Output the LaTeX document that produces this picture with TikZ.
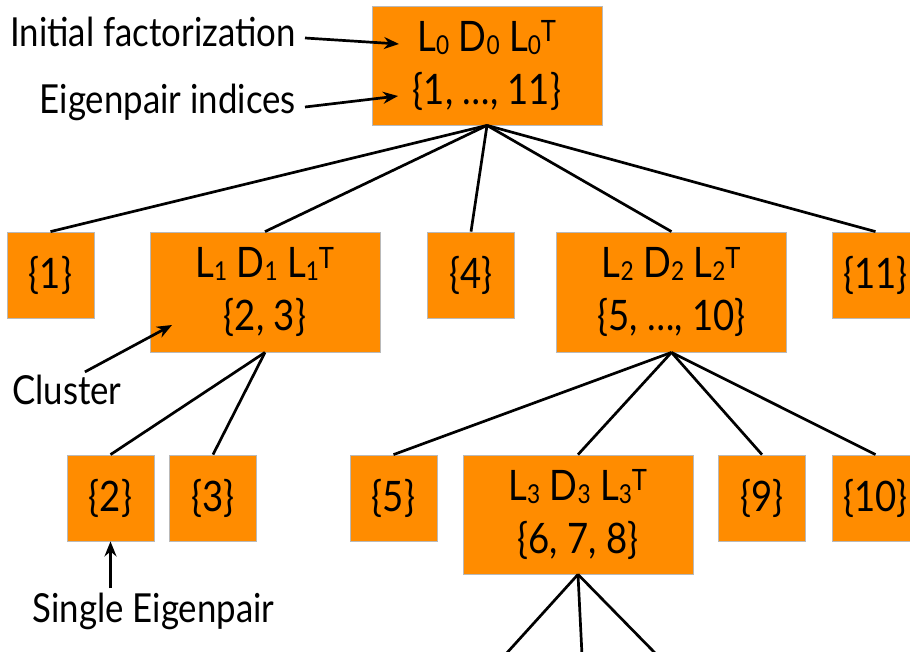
\documentclass[tikz,border=0pt]{standalone}
\usepackage{fontspec}
\setmainfont[FakeStretch=0.87]{Lato}
\usetikzlibrary{arrows.meta}
\definecolor{boxorange}{RGB}{255,140,0}
\definecolor{boxedge}{RGB}{185,185,185}
\newcommand{\lowsub}[1]{\raisebox{-0.08em}{\scalebox{0.62}{#1}}}
\newcommand{\LDL}[1]{L\lowsub{#1} D\lowsub{#1} L\lowsub{#1}\textsuperscript{T}}
\begin{document}
\begin{tikzpicture}[x=1pt,y=-1pt,
  box/.style={draw=boxedge, line width=0.8pt, fill=boxorange, inner sep=0pt, align=center, font=\fontsize{42}{53}\selectfont},
  small/.style={box, minimum width=87pt, minimum height=86pt},
  big/.style={box, minimum width=230pt, minimum height=120pt},
  edge/.style={line width=2.7pt, black},
  lab/.style={font=\fontsize{40}{44}\selectfont, inner sep=0pt},
  callout/.style={line width=2.7pt, -{Stealth[length=15pt,width=12pt]}}
]
\useasboundingbox (0,0) rectangle (910,651);
\clip (0,0) rectangle (910,651);

% row 1
\node[big, minimum height=119pt] (root) at (487,65.5) {\LDL{0}\\\{1, …, 11\}};

% row 2
\node[small] (n1)  at (50.5,275) {\{1\}};
\node[big]   (c1)  at (265,292) {\LDL{1}\\\{2, 3\}};
\node[small] (n4)  at (471,275) {\{4\}};
\node[big]   (c2)  at (671.5,292) {\LDL{2}\\\{5, …, 10\}};
\node[small] (n11) at (875.5,275) {\{11\}};

% row 3
\node[small] (n2)  at (110.5,498) {\{2\}};
\node[small] (n3)  at (213,498) {\{3\}};
\node[small] (n5)  at (393.5,498) {\{5\}};
\node[big, minimum height=119pt] (c3) at (578,514.5) {\LDL{3}\\\{6, 7, 8\}};
\node[small] (n9)  at (762,498) {\{9\}};
\node[small] (n10) at (875.5,498) {\{10\}};

% free ends below L3
\coordinate (d1) at (505,655);
\coordinate (d2) at (582,655);
\coordinate (d3) at (657,655);

% tree edges
\foreach \c in {n1,c1,n4,c2,n11} \draw[edge] (root.south) -- (\c.north);
\foreach \c in {n2,n3} \draw[edge] (c1.south) -- (\c.north);
\foreach \c in {n5,c3,n9,n10} \draw[edge] (c2.south) -- (\c.north);
\foreach \c in {d1,d2,d3} \draw[edge] (c3.south) -- (\c);

% labels
\node[lab, anchor=east] (init) at (296,32) {Initial factorization};
\node[lab, anchor=east] (eig) at (296,102) {Eigenpair indices};
\node[lab, anchor=west] (clu) at (12,390) {Cluster};
\node[lab] (sing) at (153.5,611) {Single Eigenpair};

\coordinate (t1) at (399,44);
\coordinate (t2) at (398,96);
\coordinate (t3) at (172,325);

\draw[callout] ([shift={(9pt,-6pt)}]init.east) -- (t1);
\draw[callout] ([shift={(9pt,-5pt)}]eig.east) -- (t2);
\draw[callout] ([shift={(18pt,3pt)}]clu.north) -- (t3);
\draw[callout] ([yshift=4pt]n2.south |- sing.north) -- (n2.south);
\end{tikzpicture}
\end{document}
